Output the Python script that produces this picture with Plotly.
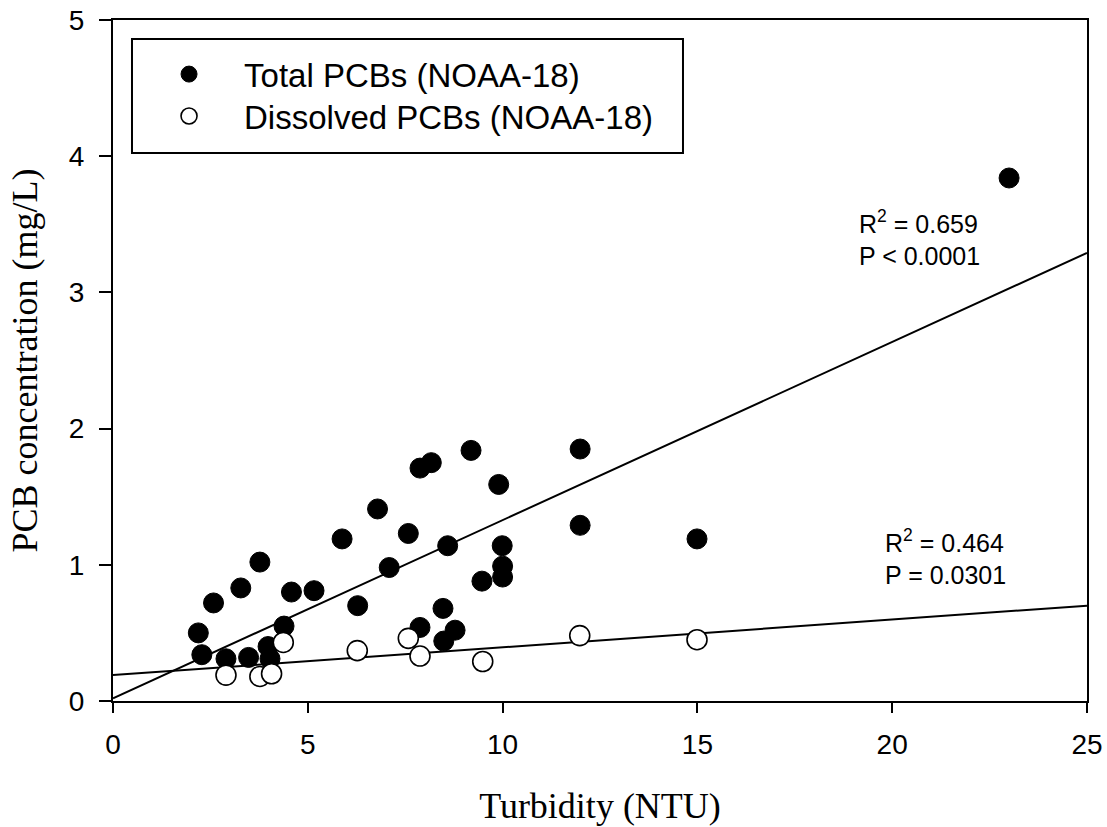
import plotly.graph_objects as go

# Total PCBs (filled circles)
total_x = [2.19, 2.28, 2.58, 2.90, 3.28, 3.48, 3.77, 3.98, 4.03, 4.39, 4.58, 5.16,
           5.88, 6.28, 6.79, 7.09, 7.58, 7.88, 8.17, 7.88, 8.47, 8.49, 8.59, 8.78,
           9.19, 9.47, 9.90, 9.99, 10.0, 10.0, 11.99, 11.99, 14.99, 23.0]
total_y = [0.50, 0.34, 0.72, 0.31, 0.83, 0.32, 1.02, 0.40, 0.31, 0.55, 0.80, 0.81,
           1.19, 0.70, 1.41, 0.98, 1.23, 1.71, 1.75, 0.54, 0.68, 0.44, 1.14, 0.52,
           1.84, 0.88, 1.59, 1.14, 0.99, 0.91, 1.85, 1.29, 1.19, 3.84]

# Dissolved PCBs (open circles)
diss_x = [2.90, 3.77, 4.07, 4.37, 6.27, 7.58, 7.88, 9.49, 11.98, 14.99]
diss_y = [0.19, 0.18, 0.20, 0.43, 0.37, 0.46, 0.33, 0.29, 0.48, 0.45]

# Regression lines (endpoints)
fit_x = [0, 25]
total_fit = [0.02, 3.29]
diss_fit = [0.19, 0.70]

# Statistics text
total_stats = "R<sup>2</sup> = 0.659<br>P &lt; 0.0001"
diss_stats = "R<sup>2</sup> = 0.464<br>P = 0.0301"

x_ticks = [0, 5, 10, 15, 20, 25]
y_ticks = [0, 1, 2, 3, 4, 5]

SANS = "Arial, Liberation Sans, sans-serif"
SERIF = "Times New Roman, Liberation Serif, serif"

fig = go.Figure()
fig.add_trace(go.Scatter(x=fit_x, y=total_fit, mode="lines",
                         line=dict(color="black", width=2), showlegend=False,
                         hoverinfo="skip"))
fig.add_trace(go.Scatter(x=fit_x, y=diss_fit, mode="lines",
                         line=dict(color="black", width=2), showlegend=False,
                         hoverinfo="skip"))
fig.add_trace(go.Scatter(x=total_x, y=total_y, mode="markers",
                         name="Total PCBs (NOAA-18)", legend="legend",
                         marker=dict(symbol="circle", size=20, color="black",
                                     line=dict(color="black", width=1))))
fig.add_trace(go.Scatter(x=diss_x, y=diss_y, mode="markers",
                         name="Dissolved PCBs (NOAA-18)", legend="legend2",
                         marker=dict(symbol="circle", size=20, color="white",
                                     line=dict(color="black", width=1.6))))

annos = [
    dict(x=19.10, y=3.40, xref="x", yref="y", text=total_stats,
         showarrow=False, xanchor="left", yanchor="middle", align="left",
         font=dict(family=SANS, size=25, color="black")),
    dict(x=19.76, y=1.06, xref="x", yref="y", text=diss_stats,
         showarrow=False, xanchor="left", yanchor="middle", align="left",
         font=dict(family=SANS, size=25, color="black")),
]

legend_common = dict(xanchor="left", yanchor="middle", bgcolor="rgba(0,0,0,0)",
                     borderwidth=0, font=dict(family=SANS, size=33, color="black"),
                     itemwidth=100)

fig.update_layout(
    width=1107, height=827,
    margin=dict(l=113, r=20, t=20, b=126),
    paper_bgcolor="white", plot_bgcolor="white",
    showlegend=True,
    legend=dict(x=0.0216, y=0.9205, **legend_common),
    legend2=dict(x=0.0216, y=0.859, **legend_common),
    annotations=annos,
    shapes=[dict(type="rect", xref="paper", yref="paper",
                 x0=0.0195, x1=0.5852, y0=0.8047, y1=0.972,
                 line=dict(color="black", width=2), layer="above")],
)
fig.update_xaxes(range=[0, 25], tickvals=x_ticks, ticktext=[str(v) for v in x_ticks],
                 showgrid=False, zeroline=False, showline=True, linecolor="black",
                 linewidth=2, mirror=True, ticks="outside", ticklen=10, tickwidth=2,
                 tickcolor="black", ticklabelstandoff=7, automargin=False,
                 ticklabeloverflow="allow",
                 tickfont=dict(family=SANS, size=28, color="black"),
                 title=dict(text="Turbidity (NTU)", standoff=34,
                            font=dict(family=SERIF, size=36, color="black")))
fig.update_yaxes(range=[0, 5], tickvals=y_ticks, ticktext=[str(v) for v in y_ticks],
                 showgrid=False, zeroline=False, showline=True, linecolor="black",
                 linewidth=2, mirror=True, ticks="outside", ticklen=12, tickwidth=2,
                 tickcolor="black", ticklabelstandoff=9, automargin=False,
                 ticklabeloverflow="allow",
                 tickfont=dict(family=SANS, size=28, color="black"),
                 title=dict(text="PCB concentration (mg/L)", standoff=20,
                            font=dict(family=SERIF, size=36, color="black")))

# remove the page's default 8px body margin so the figure sits at the window corner
fig.write_html("out.html", config={"displayModeBar": False},
               post_script="document.body.style.margin='0';")
